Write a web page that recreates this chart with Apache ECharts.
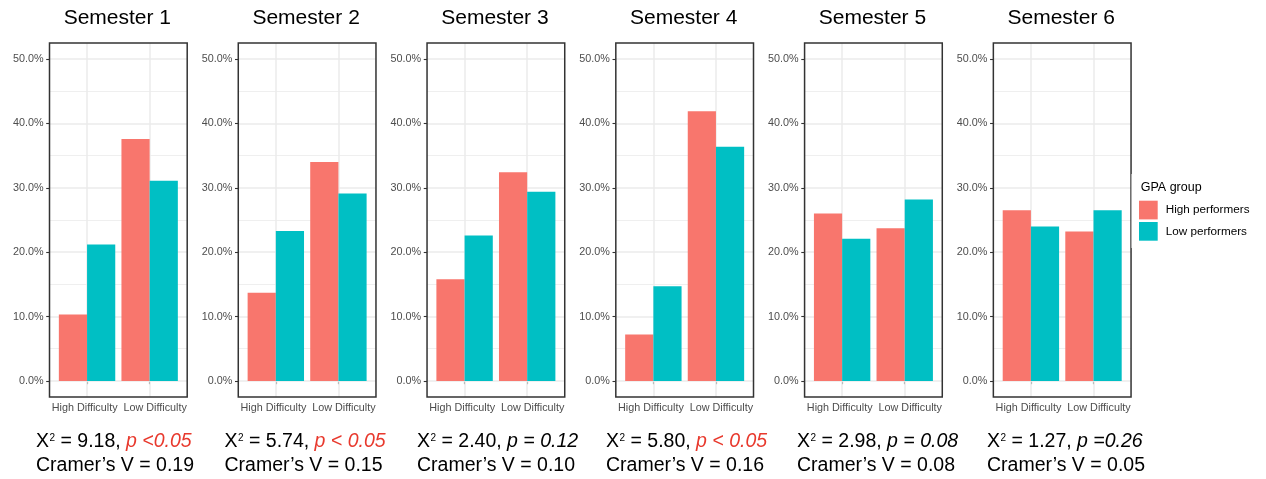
<!DOCTYPE html>
<html>
<head>
<meta charset="utf-8">
<title>Difficulty by GPA group across semesters</title>
<script src="https://cdn.jsdelivr.net/npm/echarts@6/dist/echarts.min.js"></script>
<style>
  html, body { margin: 0; padding: 0; background: #fff; }
  #chart { width: 1266px; height: 479px; }
</style>
</head>
<body>
<div id="chart"></div>
<script>
// ---- data -------------------------------------------------------------
const semesters = ['Semester 1', 'Semester 2', 'Semester 3', 'Semester 4', 'Semester 5', 'Semester 6'];
const difficulty = ['High Difficulty', 'Low Difficulty'];
const groups = ['High performers', 'Low performers'];
// share of each GPA group (%) per difficulty level, one pair per semester
const highPerformers = [[10.3, 37.6], [13.7, 34.0], [15.8, 32.4], [7.2, 41.9], [26.0, 23.7], [26.5, 23.2]];
const lowPerformers  = [[21.2, 31.1], [23.3, 29.1], [22.6, 29.4], [14.7, 36.4], [22.1, 28.2], [24.0, 26.5]];
const chiSquare = ['9.18', '5.74', '2.40', '5.80', '2.98', '1.27'];
const pValueText = ['p <0.05', 'p < 0.05', 'p = 0.12', 'p < 0.05', 'p = 0.08', 'p =0.26'];
const significant = [true, true, false, true, false, false];
const cramersV = ['0.19', '0.15', '0.10', '0.16', '0.08', '0.05'];
const yTicks = [0, 10, 20, 30, 40, 50];
const yMinorTicks = [5, 15, 25, 35, 45];

// ---- layout -----------------------------------------------------------
const FONT = '"Liberation Sans", Arial, Helvetica, sans-serif';
const COLORS = ['#F8766D', '#00BFC4'];
const panelLeft0 = 49.5, panelStep = 188.77, panelWidth = 137.7;
const panelTop = 43, panelHeight = 354;
const captionLeft = [36, 224.5, 417, 606, 797, 987];

const grids = [], xAxes = [], yAxes = [], series = [], graphics = [];
const tickFont = { fontSize: 10.8, color: '#4D4D4D', fontFamily: FONT };

semesters.forEach((name, i) => {
  const left = panelLeft0 + i * panelStep;
  // panel frame sits above the grid lines
  grids.push({
    left: left, top: panelTop, width: panelWidth, height: panelHeight, z: 5,
    show: true, borderColor: '#333333', borderWidth: 1.5, backgroundColor: 'transparent'
  });
  xAxes.push({
    gridIndex: i, type: 'value', min: 0.4, max: 2.6,
    axisLine: { show: false }, splitLine: { show: false },
    axisTick: { show: true, customValues: [1, 2], length: 3.3, lineStyle: { color: '#333333', width: 1.1 } },
    axisLabel: Object.assign({
      customValues: [1, 2], margin: 6, hideOverlap: false,
      formatter: v => (Math.round(v) === 1 ? '{h|' : '{l|') + difficulty[Math.round(v) - 1] + '}',
      rich: {
        h: Object.assign({ padding: [0, 4.8, 0, 0] }, tickFont),
        l: Object.assign({ padding: [0, 0, 0, 11] }, tickFont)
      }
    }, tickFont)
  });
  yAxes.push({
    gridIndex: i, type: 'value', min: -2.5, max: 52.5,
    axisLine: { show: false }, splitLine: { show: false },
    axisTick: { show: true, customValues: yTicks, length: 3.3, lineStyle: { color: '#333333', width: 1.1 } },
    axisLabel: Object.assign({
      customValues: yTicks, margin: 6,
      formatter: v => v.toFixed(1) + '%'
    }, tickFont)
  });

  // panel grid lines, drawn beneath the bars
  const gridLines = [];
  yTicks.forEach(v => gridLines.push({ yAxis: v, lineStyle: { color: '#EBEBEB', width: 1.5, type: 'solid' } }));
  yMinorTicks.forEach(v => gridLines.push({ yAxis: v, lineStyle: { color: '#EBEBEB', width: 0.8, type: 'solid' } }));
  [1, 2].forEach(v => gridLines.push({ xAxis: v, lineStyle: { color: '#EBEBEB', width: 1.5, type: 'solid' } }));
  series.push({
    name: 'grid-lines-' + i, type: 'scatter', xAxisIndex: i, yAxisIndex: i, data: [], z: 1,
    silent: true,
    markLine: {
      silent: true, symbol: ['none', 'none'], z: 1, animation: false,
      label: { show: false }, emphasis: { disabled: true },
      data: gridLines
    }
  });

  [highPerformers, lowPerformers].forEach((src, g) => {
    series.push({
      name: groups[g], type: 'bar', xAxisIndex: i, yAxisIndex: i,
      data: src[i].map((v, k) => [k + 1, v]),
      barWidth: 28.2, barGap: '0%', z: 3,
      itemStyle: { color: COLORS[g] },
      emphasis: { disabled: true }
    });
  });

  // panel title
  graphics.push({
    type: 'text', x: left + panelWidth / 2 - 1, y: 18, z: 10,
    style: { text: name, fill: '#000', font: '21px ' + FONT, textAlign: 'center', textVerticalAlign: 'middle' }
  });

  // test statistics under each panel
  graphics.push({
    type: 'text', x: captionLeft[i], y: 442, z: 10,
    style: {
      text: '{n|\u03A7}{s|2}{n| = ' + chiSquare[i] + ', }{p|' + pValueText[i] + '}',
      textAlign: 'left', textVerticalAlign: 'middle',
      rich: {
        n: { fontSize: 19.5, fontFamily: FONT, fill: '#000', lineHeight: 22 },
        s: { fontSize: 10, fontFamily: FONT, fill: '#000', verticalAlign: 'top', padding: [2, 0, 0, 0.5] },
        p: { fontSize: 19.5, fontFamily: FONT, fontStyle: 'italic', fill: significant[i] ? '#E8392D' : '#000', lineHeight: 22 }
      }
    }
  });
  graphics.push({
    type: 'text', x: captionLeft[i], y: 465.5, z: 10,
    style: {
      text: 'Cramer\u2019s V = ' + cramersV[i], fill: '#000', font: '19.5px ' + FONT,
      textAlign: 'left', textVerticalAlign: 'middle'
    }
  });
});

// legend backdrop and title
graphics.push({
  type: 'rect', z: 6, shape: { x: 1131.5, y: 174, width: 134.5, height: 74 },
  style: { fill: '#FFFFFF' }
});
graphics.push({
  type: 'text', x: 1140.7, y: 188, z: 10,
  style: { text: 'GPA group', fill: '#000', font: '12.5px ' + FONT, textAlign: 'left', textVerticalAlign: 'middle' }
});

const chart = echarts.init(document.getElementById('chart'), null, { renderer: 'canvas' });
chart.setOption({
  animation: false,
  backgroundColor: '#FFFFFF',
  textStyle: { fontFamily: FONT },
  grid: grids,
  xAxis: xAxes,
  yAxis: yAxes,
  series: series,
  legend: {
    data: groups, orient: 'vertical', left: 1139, top: 200.7, z: 8, padding: 0,
    icon: 'rect', itemWidth: 18.7, itemHeight: 18.7, itemGap: 2.6,
    selectedMode: false,
    textStyle: { fontSize: 11.7, color: '#000', fontFamily: FONT, padding: [0, 0, 0, 3] }
  },
  graphic: { elements: graphics }
});
</script>
</body>
</html>
